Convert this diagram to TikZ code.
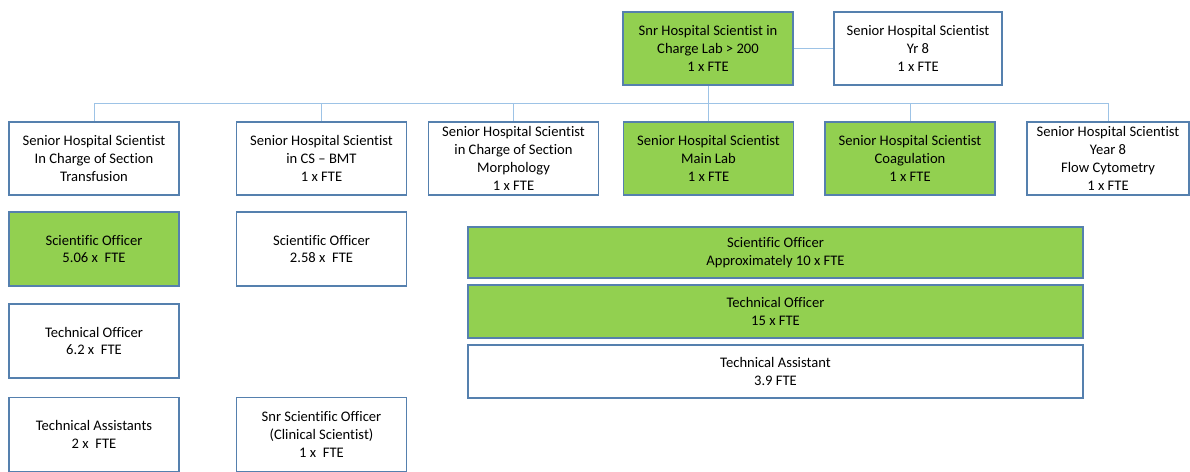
\documentclass[tikz,border=0pt]{standalone}
\usepackage{fontspec}
\setmainfont{Carlito}[Ligatures=NoCommon]
\definecolor{boxgreen}{HTML}{92D050}
\definecolor{boxline}{HTML}{5580AE}
\definecolor{linkblue}{HTML}{9DC3E6}
\tikzset{
    post/.style={draw=boxline, line width=1.3pt, align=center, inner sep=0pt,
        minimum width=170pt, minimum height=73pt,
        font=\fontsize{14.6}{17.9}\selectfont},
    filled/.style={post, fill=boxgreen},
    link/.style={draw=linkblue, line width=0.9pt},
}
\begin{document}
\begin{tikzpicture}[x=1pt, y=-1pt]
    \useasboundingbox (0,0) rectangle (1190,471);
    % head of lab
    \node[filled] (boss) at (708,48.5) {Snr Hospital Scientist in\\Charge Lab > 200\\1 x FTE};
    \node[post, minimum width=168pt] (yr8) at (918,48.5) {Senior Hospital Scientist\\Yr 8\\1 x FTE};
    % section heads
    \node[post] (t1) at (94,158.5) {Senior Hospital Scientist\\In Charge of Section\\Transfusion};
    \node[post] (t2) at (321.5,158.5) {Senior Hospital Scientist\\in CS -- BMT\\1 x FTE};
    \node[post] (t3) at (513.5,158.5) {Senior Hospital Scientist\\in Charge of Section\\Morphology\\1 x FTE};
    \node[filled] (t4) at (708.5,158.5) {Senior Hospital Scientist\\Main Lab\\1 x FTE};
    \node[filled] (t5) at (910,158.5) {Senior Hospital Scientist\\Coagulation\\1 x FTE};
    \node[post, minimum width=162pt] (t6) at (1108,158.5) {Senior Hospital Scientist\\Year 8\\Flow Cytometry\\1 x FTE};
    % staff under transfusion
    \node[filled, minimum height=74pt] (so1) at (94,249) {Scientific Officer\\5.06 x~ FTE};
    \node[post, minimum height=74pt] (to1) at (94,341) {Technical Officer\\6.2 x~ FTE};
    \node[post, minimum height=74pt] (ta1) at (94,434.5) {Technical Assistants\\2 x~ FTE};
    % staff under BMT
    \node[post, minimum height=74pt] (so2) at (321.5,249) {Scientific Officer\\2.58 x~ FTE};
    \node[post, minimum height=74pt] (sso) at (321.5,434.5) {Snr Scientific Officer\\(Clinical Scientist)\\1 x~ FTE};
    % shared staff
    \node[filled, minimum width=615pt, minimum height=51pt] (so3) at (775.5,252.5) {Scientific Officer\\Approximately 10 x FTE};
    \node[filled, minimum width=615pt, minimum height=53pt] (to3) at (775.5,311.5) {Technical Officer\\15 x FTE};
    \node[post, minimum width=615pt, minimum height=53pt] (ta3) at (775.5,371.5) {Technical Assistant\\3.9 FTE};
    % connectors
    \coordinate (bus) at (708,103);
    \draw[link] (boss) -- (yr8);
    \draw[link] (boss) -- (bus);
    \draw[link] (bus -| t1) -- (bus -| t6);
    \foreach \n in {t1,t2,t3,t4,t5,t6}
        \draw[link] (bus -| \n) -- (\n);
\end{tikzpicture}
\end{document}
